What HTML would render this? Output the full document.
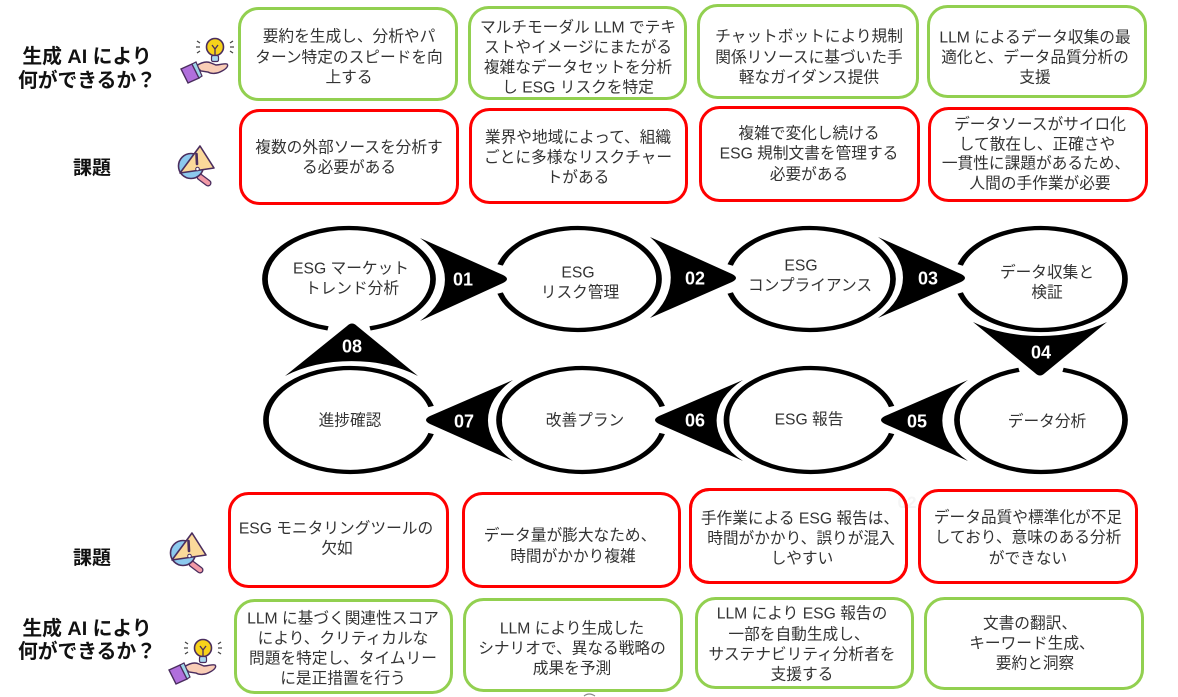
<!DOCTYPE html>
<html lang="ja">
<head>
<meta charset="utf-8">
<title>ESG</title>
<style>
html,body{margin:0;padding:0;background:#fff;width:1178px;height:697px;overflow:hidden}
svg{display:block}
text{font-family:"Liberation Sans","Noto Sans CJK JP",sans-serif}
.t text{font-size:15.7px;fill:#333;text-anchor:middle}
.h text{font-size:19.8px;font-weight:700;fill:#111;text-anchor:middle}
.h text.k{font-size:19px}
.n text{font-size:18px;font-weight:700;fill:#fff;text-anchor:middle}
.g rect{fill:#fff;stroke:#92d050;stroke-width:3}
.r rect{fill:#fff;stroke:#ff0000;stroke-width:3}
.ring path{fill:none;stroke:#000;stroke-width:5.7}
</style>
</head>
<body>
<svg width="1178" height="697" viewBox="0 0 1178 697" xmlns="http://www.w3.org/2000/svg">
<defs>
<g id="bulb">
  <path d="M-19,-4 h4 M-18,-10 l3,2 M-18,2 l3,-2 M19,-4 h-4 M18,-10 l-3,2 M18,2 l-3,-2" stroke="#444" stroke-width="1.300" fill="none"/>
  <circle cx="0" cy="-4" r="8.500" fill="#f7d21a" stroke="#4a2d5e" stroke-width="1.600"/>
  <path d="M-3,-6 L0,-2 L3,-6 M0,-2 V5" stroke="#4a2d5e" stroke-width="1.300" fill="none"/>
  <rect x="-3.500" y="4.500" width="7" height="6" rx="1.500" fill="#a9d8ee" stroke="#4a2d5e" stroke-width="1.200"/>
</g>
<g id="hand">
  <path d="M-18,17 C-12,13 -7,12 -3,14 L2,16 C7,16 10,14 13,15 C15,17 12,20 8,22 C3,25 -3,25 -6,23 L-13,22 Z" fill="#f9cdb6" stroke="#4a2d5e" stroke-width="1.400"/>
  <path d="M-33,20 L-22,15 L-15,29 L-26,34 Z" fill="#b06fdc" stroke="#4a2d5e" stroke-width="1.400"/>
  <path d="M-22,15 L-18,13 L-12,27 L-15,29 Z" fill="#9ed6e8" stroke="#4a2d5e" stroke-width="1.200"/>
</g>
<g id="warn">
  <path d="M9,12 L17,18" stroke="#4a2d5e" stroke-width="7" stroke-linecap="round"/>
  <path d="M9,12 L17,18" stroke="#f29aa6" stroke-width="4.400" stroke-linecap="round"/>
  <circle cx="0" cy="1" r="12.500" fill="#8cc9ee" stroke="#4a2d5e" stroke-width="1.600"/>
  <path d="M9,-19 L23,3 L-11,8 Z" fill="#fbd99a" stroke="#4a2d5e" stroke-width="1.600" stroke-linejoin="round"/>
  <path d="M5.500,-11 L6,-1" stroke="#4a2d5e" stroke-width="2.600" stroke-linecap="round"/>
  <circle cx="6.500" cy="4" r="1.800" fill="#fff" stroke="#4a2d5e" stroke-width="1"/>
</g>
</defs>

<!-- left labels -->
<g class="h">
  <text x="87" y="63">生成 AI により</text>
  <text x="87" y="87">何ができるか？</text>
  <text class="k" x="92" y="174">課題</text>
  <text class="k" x="92" y="564">課題</text>
  <text x="87" y="635">生成 AI により</text>
  <text x="87" y="658">何ができるか？</text>
</g>

<!-- icons -->
<use href="#bulb" x="215" y="51"/>
<use href="#hand" x="214" y="49"/>
<use href="#warn" x="191" y="165"/>
<use href="#warn" x="183" y="552"/>
<use href="#bulb" x="203" y="652"/>
<use href="#hand" x="202" y="650"/>

<!-- boxes -->
<g class="g">
  <rect x="239.500" y="8.500" width="217" height="91" rx="19"/>
  <rect x="469.500" y="7.500" width="216" height="91" rx="19"/>
  <rect x="698.500" y="5.500" width="219" height="92" rx="19"/>
  <rect x="928.500" y="6.500" width="217" height="90" rx="19"/>
  <rect x="235.500" y="600.500" width="216" height="92" rx="19"/>
  <rect x="464.500" y="599.500" width="217" height="91" rx="19"/>
  <rect x="696.500" y="598.500" width="216" height="89" rx="19"/>
  <rect x="925.500" y="598.500" width="217" height="90" rx="19"/>
</g>
<g class="r">
  <rect x="240.500" y="110.500" width="217" height="93" rx="19"/>
  <rect x="470.500" y="109.500" width="216" height="93" rx="19"/>
  <rect x="700.500" y="107.500" width="218" height="93" rx="19"/>
  <rect x="929.500" y="108.500" width="217" height="92" rx="19"/>
  <rect x="229.500" y="493.500" width="218" height="93" rx="19"/>
  <rect x="463.500" y="493.500" width="216" height="93" rx="19"/>
  <rect x="690.500" y="489.500" width="216" height="93" rx="19"/>
  <rect x="919.500" y="490.500" width="217" height="92" rx="19"/>
</g>

<!-- faint artifact -->
<text x="907" y="508" font-size="17" font-weight="700" fill="#f5f5f5" text-anchor="middle">02</text>
<rect x="690.500" y="489.500" width="216" height="93" rx="19" fill="none" stroke="#ff0000" stroke-width="3"/>
<path d="M584,696 Q589,692 595,696" fill="none" stroke="#888" stroke-width="1.200"/>

<!-- box text -->
<g class="t">
  <text x="349" y="41.500">要約を生成し、分析やパ</text>
  <text x="349" y="62.500">ターン特定のスピードを向</text>
  <text x="349" y="82.500">上する</text>

  <text x="578" y="32.500">マルチモーダル LLM でテキ</text>
  <text x="578" y="52.500">ストやイメージにまたがる</text>
  <text x="578" y="72.500">複雑なデータセットを分析</text>
  <text x="578" y="92.500">し ESG リスクを特定</text>

  <text x="809" y="41.500">チャットボットにより規制</text>
  <text x="809" y="62.500">関係リソースに基づいた手</text>
  <text x="809" y="82.500">軽なガイダンス提供</text>

  <text x="1035" y="42.500">LLM によるデータ収集の最</text>
  <text x="1035" y="62.500">適化と、データ品質分析の</text>
  <text x="1035" y="82.500">支援</text>

  <text x="349" y="152.500">複数の外部ソースを分析す</text>
  <text x="349" y="172.500">る必要がある</text>

  <text x="578" y="142.500">業界や地域によって、組織</text>
  <text x="578" y="162.500">ごとに多様なリスクチャー</text>
  <text x="578" y="182.500">トがある</text>

  <text x="809" y="138.500">複雑で変化し続ける</text>
  <text x="809" y="158.500">ESG 規制文書を管理する</text>
  <text x="809" y="179.500">必要がある</text>

  <text x="1040" y="129.500">データソースがサイロ化</text>
  <text x="1037" y="149.500">して散在し、正確さや</text>
  <text x="1036" y="168.500">一貫性に課題があるため、</text>
  <text x="1040" y="188.500">人間の手作業が必要</text>

  <text x="336" y="533.500">ESG モニタリングツールの</text>
  <text x="337" y="553.500">欠如</text>

  <text x="570" y="540.500">データ量が膨大なため、</text>
  <text x="573" y="561.500">時間がかかり複雑</text>

  <text x="800" y="523.500">手作業による ESG 報告は、</text>
  <text x="801" y="543.500">時間がかかり、誤りが混入</text>
  <text x="802" y="563.500">しやすい</text>

  <text x="1028" y="522.500">データ品質や標準化が不足</text>
  <text x="1028" y="542.500">しており、意味のある分析</text>
  <text x="1028" y="563.500">ができない</text>

  <text x="343" y="623.500">LLM に基づく関連性スコア</text>
  <text x="343" y="643.500">により、クリティカルな</text>
  <text x="343" y="663.500">問題を特定し、タイムリー</text>
  <text x="343" y="683.500">に是正措置を行う</text>

  <text x="572" y="633.500">LLM により生成した</text>
  <text x="572" y="653.500">シナリオで、異なる戦略の</text>
  <text x="572" y="673.500">成果を予測</text>

  <text x="802" y="618.500">LLM により ESG 報告の</text>
  <text x="799" y="639.500">一部を自動生成し、</text>
  <text x="802" y="659.500">サステナビリティ分析者を</text>
  <text x="802" y="679.500">支援する</text>

  <text x="1030" y="628.500">文書の翻訳、</text>
  <text x="1032" y="648.500">キーワード生成、</text>
  <text x="1035" y="668.500">要約と洞察</text>
</g>

<!-- ellipses with gaps -->
<g class="ring">
  <path transform="translate(349,279) scale(1,.75)" d="M-21,65.800 A84,68 0 1 1 21,65.800"/>
  <path transform="translate(578,279) scale(1,.75)" d="M-77.900,-18.670 A81,68 0 1 1 -77.900,18.670"/>
  <path transform="translate(810,279) scale(1,.75)" d="M-79.800,-18.670 A83,68 0 1 1 -79.800,18.670"/>
  <path transform="translate(1041,279) scale(1,.75)" d="M-80.800,-18.670 A84,68 0 1 1 -80.800,18.670"/>
  <path transform="translate(1041,420) scale(1,.75)" d="M22,-66.900 A84,69.300 0 1 1 -22,-66.900"/>
  <path transform="translate(810.500,420) scale(1,.75)" d="M81.100,18 A84,69.300 0 1 1 81.100,-18"/>
  <path transform="translate(582,420) scale(1,.75)" d="M80.200,18 A83,69.300 0 1 1 80.200,-18"/>
  <path transform="translate(350,420) scale(1,.75)" d="M81.100,18 A84,69.300 0 1 1 81.100,-18"/>
</g>

<!-- arrows -->
<g fill="#000">
  <path d="M420,238 A97,62 0 0 1 420,321 L503,283 Q511,279 503,275 Z"/>
  <path d="M650,237 A92,64 0 0 1 650,318 L732,282 Q740,278 732,274 Z"/>
  <path d="M878,237 A93,59.400 0 0 1 878,318 L961,282 Q969,278 961,274 Z"/>
  <path d="M973,322 A102,57 0 0 0 1107,322 L1045,373 Q1040,378 1035,373 Z"/>
  <path d="M968,380 A98,60 0 0 0 968,461 L885,424 Q877,420 885,416 Z"/>
  <path d="M743,380 A93,58 0 0 0 743,461 L659,424 Q651,420 659,416 Z"/>
  <path d="M513,380 A94,59.600 0 0 0 513,461 L430,424 Q422,420 430,416 Z"/>
  <path d="M285,376 A100,59 0 0 1 418,376 L357,326 Q352,321 347,326 Z"/>
</g>
<g class="n">
  <text x="463" y="285.500">01</text>
  <text x="695" y="284.500">02</text>
  <text x="928" y="284.500">03</text>
  <text x="1041" y="358.500">04</text>
  <text x="917" y="427.500">05</text>
  <text x="695" y="426.500">06</text>
  <text x="464" y="427.500">07</text>
  <text x="352" y="352.500">08</text>
</g>

<!-- ellipse text -->
<g class="t">
  <text x="351" y="273.500">ESG マーケット</text>
  <text x="352" y="293.500">トレンド分析</text>
  <text x="578" y="277.500">ESG</text>
  <text x="580" y="297.500">リスク管理</text>
  <text x="801" y="270.500">ESG</text>
  <text x="810" y="290.500">コンプライアンス</text>
  <text x="1047" y="277.500">データ収集と</text>
  <text x="1047" y="297.500">検証</text>
  <text x="1047" y="426.500">データ分析</text>
  <text x="809" y="424.500">ESG 報告</text>
  <text x="585" y="425.500">改善プラン</text>
  <text x="350" y="425.500">進捗確認</text>
</g>
</svg>
</body>
</html>
